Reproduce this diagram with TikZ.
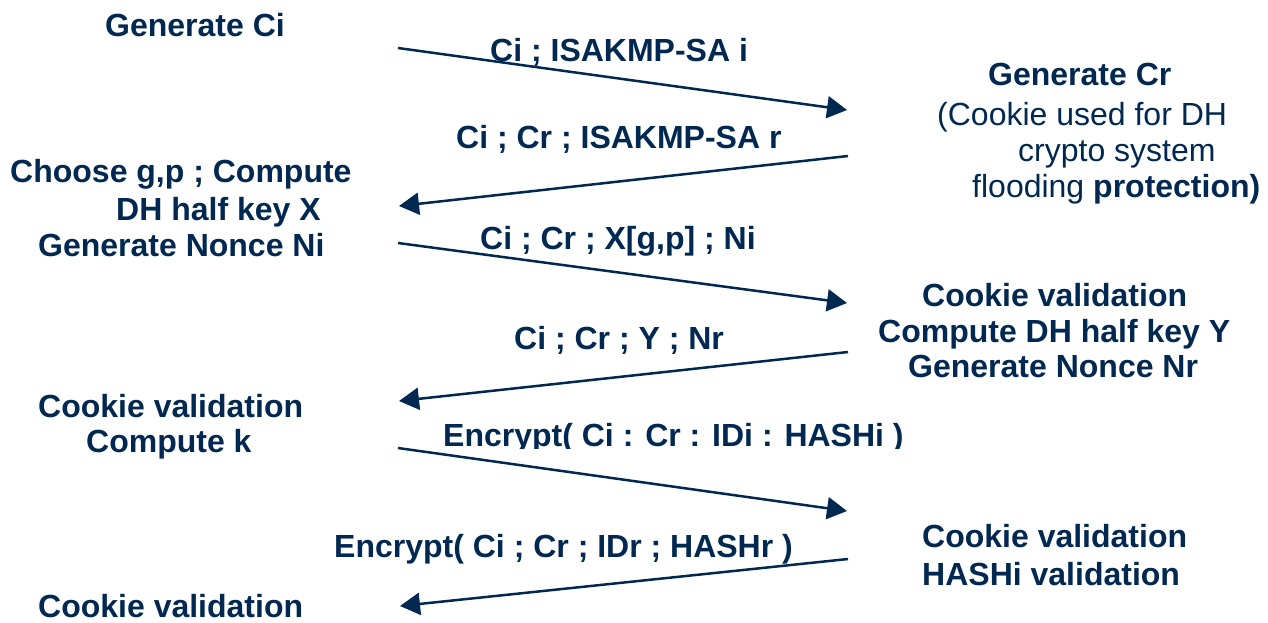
\documentclass[tikz,border=0pt]{standalone}
\usepackage{fontspec}
\setmainfont{Liberation Sans}
\usetikzlibrary{arrows.meta}
\definecolor{navy}{RGB}{0,40,80}
\tikzset{
  lbl/.style={anchor=base west, inner sep=0pt, text=navy,
    font=\fontsize{32}{36}\selectfont\bfseries},
  note/.style={lbl, font=\fontsize{32}{36}\selectfont},
  msg/.style={draw=navy, line width=2.5pt,
    -{Triangle[length=20pt,width=22pt]}},
}
\begin{document}
\begin{tikzpicture}[x=1pt, y=-1pt]
\useasboundingbox (0,0) rectangle (1268,623);

% initiator side
\node[lbl] (gci) at (105,37) {Generate Ci};
\node[lbl] (choose) at (10,182) {Choose g,p ; Compute};
\node[lbl] (dhx) at (116,220) {DH half key X};
\node[lbl] (nni) at (38,256) {Generate Nonce Ni};
\node[lbl] (cvi1) at (38,417) {Cookie validation};
\node[lbl] (ck) at (86,452) {Compute k};
\node[lbl] (cvi2) at (38,617) {Cookie validation};

% responder side
\node[lbl] (gcr) at (988,86) {Generate Cr};
\node[note] (cookie1) at (937,125) {(Cookie used for DH};
\node[note] (cookie2) at (1018,161) {crypto system};
\node[note] (cookie3) at (972,197) {flooding \textbf{protection)}};
\node[lbl] (cvr1) at (922,306) {Cookie validation};
\node[lbl] (dhy) at (878,342) {Compute DH half key Y};
\node[lbl] (nnr) at (908,377) {Generate Nonce Nr};
\node[lbl] (cvr2) at (922,547) {Cookie validation};
\node[lbl] (hv) at (922,585) {HASHi validation};

% message labels
\node[lbl] (m1) at (490,62) {Ci ; ISAKMP-SA i};
\node[lbl] (m2) at (456,148) {Ci ; Cr ; ISAKMP-SA r};
\node[lbl] (m3) at (480,249) {Ci ; Cr ; X[g,p] ; Ni};
\node[lbl] (m4) at (514,349) {Ci ; Cr ; Y ; Nr};
\begin{scope}
  \clip (0,0) rectangle (1268,448);
  \node[lbl] (m5) at (443,446) {Encrypt( Ci : Cr : IDi : HASHi )};
\end{scope}
\node[lbl] (m6) at (334,557) {Encrypt( Ci ; Cr ; IDr ; HASHr )};

% message arrows
\coordinate (i1) at (398,48);  \coordinate (r1) at (847,110);
\coordinate (r2) at (848,156); \coordinate (i2) at (399,206);
\coordinate (i3) at (398,243); \coordinate (r3) at (847,303);
\coordinate (r4) at (848,352); \coordinate (i4) at (399,401);
\coordinate (i5) at (398,448); \coordinate (r5) at (847,511);
\coordinate (r6) at (848,559); \coordinate (i6) at (400,606);
\draw[msg] (i1) -- (r1);
\draw[msg] (r2) -- (i2);
\draw[msg] (i3) -- (r3);
\draw[msg] (r4) -- (i4);
\draw[msg] (i5) -- (r5);
\draw[msg] (r6) -- (i6);
\end{tikzpicture}
\end{document}
